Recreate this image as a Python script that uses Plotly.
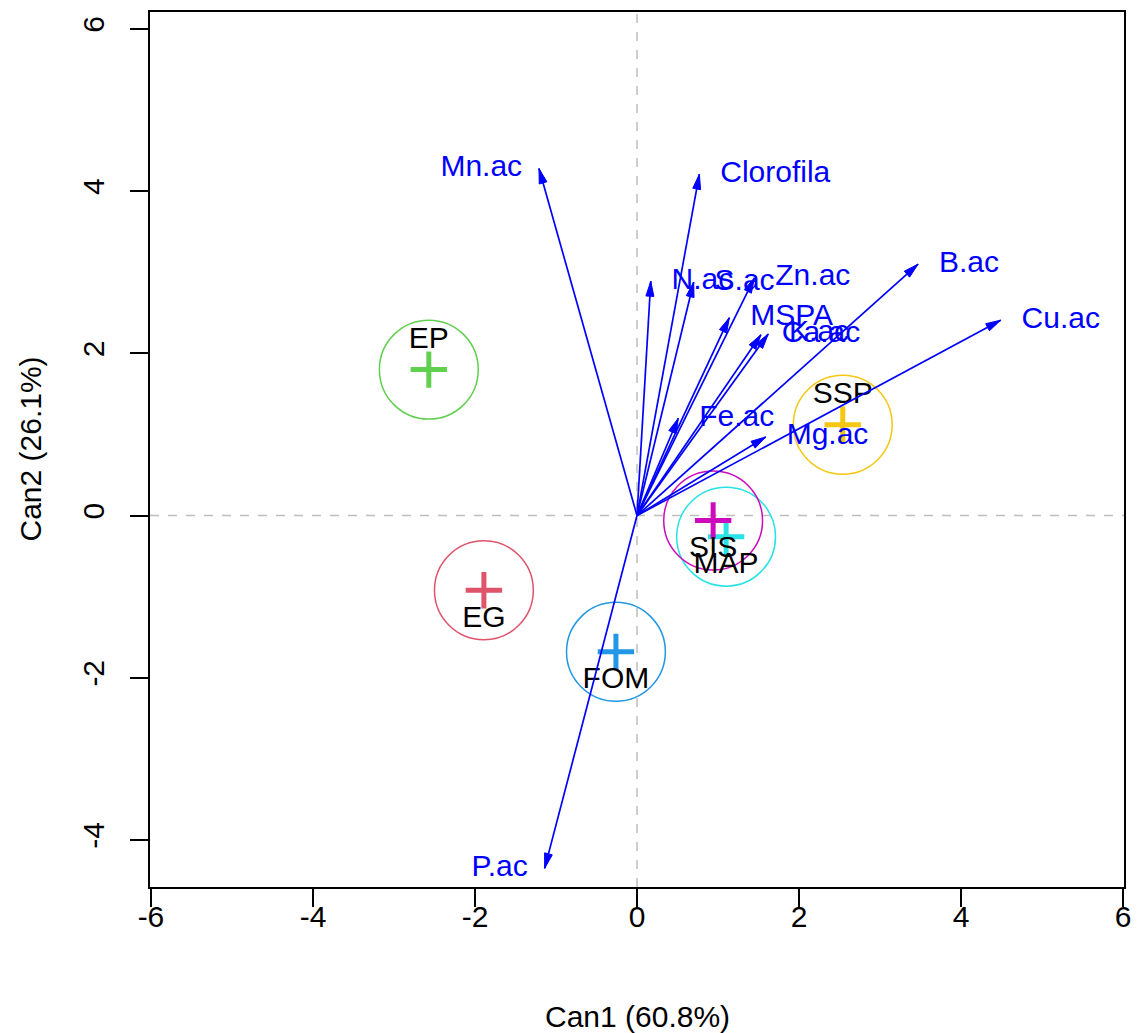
import numpy as np
import plotly.graph_objects as go

# Structure coefficients (variable vectors) in canonical space
variables = ["Mn.ac", "Clorofila", "N.ac", "S.ac", "Zn.ac", "MSPA", "K.ac",
             "Ca.ac", "B.ac", "Cu.ac", "Fe.ac", "Mg.ac", "P.ac"]
vec_can1 = [-1.21, 0.77, 0.17, 0.70, 1.45, 1.14, 1.62, 1.53, 3.47, 4.49, 0.51, 1.59, -1.14]
vec_can2 = [4.28, 4.21, 2.89, 2.88, 2.93, 2.44, 2.24, 2.23, 3.10, 2.41, 1.20, 0.97, -4.35]

# Group means (canonical scores)
groups = ["EG", "EP", "FOM", "MAP", "SIS", "SSP"]
mean_can1 = [-1.89, -2.57, -0.26, 1.10, 0.94, 2.54]
mean_can2 = [-0.92, 1.80, -1.68, -0.26, -0.06, 1.12]
group_colors = ["#DF536B", "#61D04F", "#2297E6", "#28E2E5", "#CD0BBC", "#F5C710"]
circle_radius = 0.61

x_ticks = [-6, -4, -2, 0, 2, 4, 6]
y_ticks = [-4, -2, 0, 2, 4, 6]

# Page / axis geometry
W, H = 1137, 1033
ML, MR, MT, MB = 150, 6, 12, 146
XR = [-6.012, 6.012]
YR = [-4.58, 6.21]
sx = (W - ML - MR) / (XR[1] - XR[0])   # px per data unit (x)
sy = (H - MT - MB) / (YR[1] - YR[0])   # px per data unit (y)

FONT = "Liberation Sans, Arial, sans-serif"
FS = 30
BLUE = "#0000FF"

fig = go.Figure()

# Group centroids
for g, cx, cy, col in zip(groups, mean_can1, mean_can2, group_colors):
    fig.add_trace(go.Scatter(
        x=[cx], y=[cy], mode="markers",
        marker=dict(symbol="cross-thin", size=26, line=dict(color=col, width=5)),
        hoverinfo="skip", showlegend=False))
    fig.add_shape(type="circle", xref="x", yref="y", layer="below",
                  x0=cx - circle_radius, x1=cx + circle_radius,
                  y0=cy - circle_radius, y1=cy + circle_radius,
                  line=dict(color=col, width=1.5))

# Group labels: above when score > 0, below otherwise
lab_dy = 29 / sy
fig.add_trace(go.Scatter(
    x=mean_can1,
    y=[cy + lab_dy if cy > 0 else cy - lab_dy for cy in mean_can2],
    mode="text", text=groups, textposition="middle center",
    textfont=dict(family=FONT, size=FS, color="black"),
    hoverinfo="skip", showlegend=False))

# Variable vectors
for vx, vy in zip(vec_can1, vec_can2):
    fig.add_trace(go.Scatter(
        x=[0, vx], y=[0, vy], mode="lines",
        line=dict(color=BLUE, width=1.7),
        hoverinfo="skip", showlegend=False))

# Narrow filled arrowheads (computed in screen space, converted back to data)
head_len, half_w = 15.0, 4.0
hx, hy = [], []
for vx, vy in zip(vec_can1, vec_can2):
    px, py = vx * sx, vy * sy
    n = np.hypot(px, py)
    ux, uy = px / n, py / n
    bx, by = px - head_len * ux, py - head_len * uy
    pts = [(px, py), (bx - half_w * uy, by + half_w * ux),
           (bx + half_w * uy, by - half_w * ux), (px, py)]
    hx += [p[0] / sx for p in pts] + [None]
    hy += [p[1] / sy for p in pts] + [None]
fig.add_trace(go.Scatter(
    x=hx, y=hy, mode="lines", fill="toself", fillcolor=BLUE,
    line=dict(color=BLUE, width=1), hoverinfo="skip", showlegend=False))

# Vector labels: to the right of positive tips, to the left of negative ones
for side, pos, gap in ((1, "middle right", 21), (-1, "middle left", 17)):
    idx = [i for i, v in enumerate(vec_can1) if (v >= 0) == (side == 1)]
    fig.add_trace(go.Scatter(
        x=[vec_can1[i] + side * gap / sx for i in idx],
        y=[vec_can2[i] for i in idx],
        mode="text", text=[variables[i] for i in idx], textposition=pos,
        textfont=dict(family=FONT, size=FS, color=BLUE),
        hoverinfo="skip", showlegend=False))

# Reference lines through the origin
ref = dict(color="#BEBEBE", width=1.5, dash="dash")
fig.add_shape(type="line", xref="x", yref="paper", x0=0, x1=0, y0=0, y1=1,
              line=ref, layer="below")
fig.add_shape(type="line", xref="paper", yref="y", x0=0, x1=1, y0=0, y1=0,
              line=ref, layer="below")

axis_common = dict(showgrid=False, zeroline=False, showline=True, mirror=True,
                   linecolor="black", linewidth=1.5, ticks="outside",
                   ticklen=18, tickwidth=1.5, tickcolor="black",
                   tickfont=dict(family=FONT, size=FS, color="black"))

fig.update_layout(
    width=W, height=H,
    margin=dict(l=ML, r=MR, t=MT, b=MB, pad=0),
    paper_bgcolor="white", plot_bgcolor="white",
    xaxis=dict(range=XR, tickvals=x_ticks, ticktext=[str(v) for v in x_ticks],
               ticklabelstandoff=-16, **axis_common),
    yaxis=dict(range=YR, tickvals=y_ticks, ticktext=[str(v) for v in y_ticks],
               tickangle=-90, ticklabelstandoff=14, **axis_common),
    annotations=[
        dict(text="Can1 (60.8%)", xref="paper", yref="paper", x=0.5, y=0,
             xanchor="center", yanchor="middle", yshift=-129, showarrow=False,
             font=dict(family=FONT, size=FS, color="black")),
        dict(text="Can2 (26.1%)", xref="paper", yref="paper", x=0, y=0.5,
             xanchor="center", yanchor="middle", xshift=-120, textangle=-90,
             showarrow=False, font=dict(family=FONT, size=FS, color="black")),
    ],
    showlegend=False,
)

fig.write_html("out.html")
